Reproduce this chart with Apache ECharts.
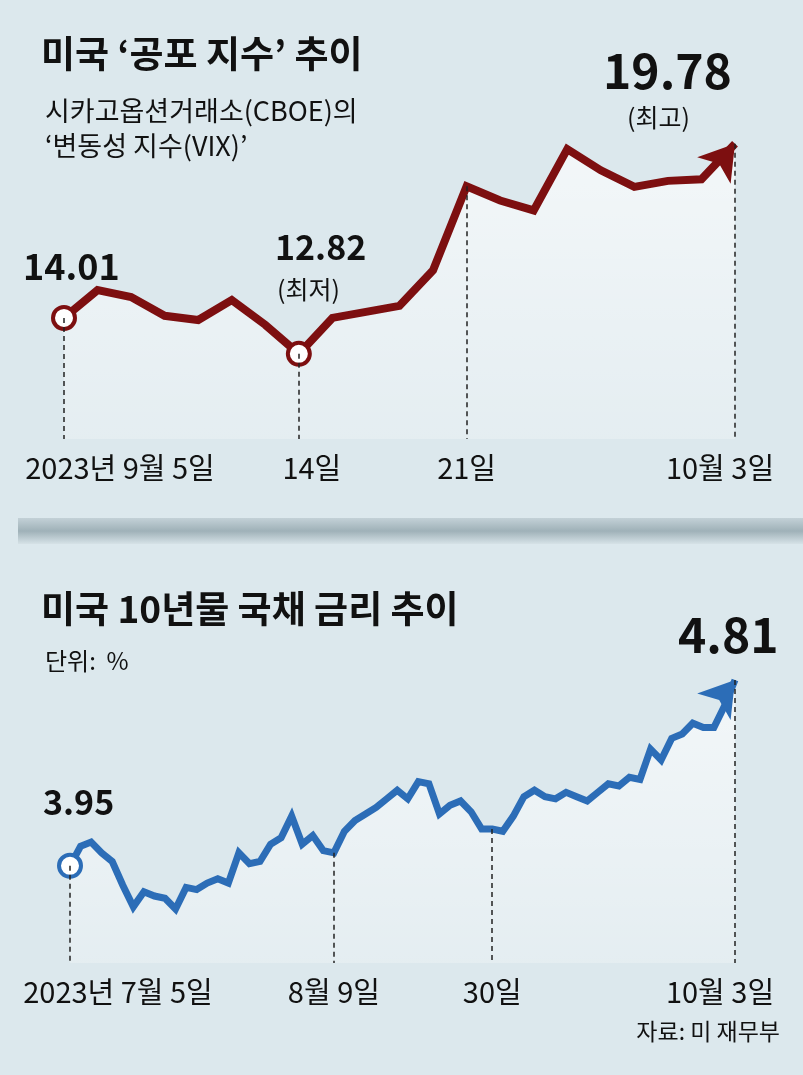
<!DOCTYPE html>
<html><head><meta charset="utf-8">
<script src="https://cdn.jsdelivr.net/npm/echarts@6/dist/echarts.min.js"></script>
<style>html,body{margin:0;padding:0;background:#dce8ed}#c{width:803px;height:1075px}</style>
</head><body><div id="c"></div>
<script>
// VIX, 2023-09-05 ~ 10-03 (거래일)
const vixDays = ['9/5','9/6','9/7','9/8','9/11','9/12','9/13','9/14','9/15','9/18','9/19','9/20','9/21','9/22','9/25','9/26','9/27','9/28','9/29','10/2','10/3']
const vixValues = [14.01,14.93,14.70,14.08,13.94,14.60,13.78,12.82,14.01,14.21,14.41,15.59,18.37,17.90,17.57,19.60,18.90,18.35,18.55,18.60,19.78]
const vixLabels = {0: '2023년 9월 5일', 7: '14일', 12: '21일', 20: '10월 3일'}
const vixCircles = [0, 7]

// 미국 10년물 국채 금리, 2023-07-05 ~ 10-03
const bondDays = ['7/5','7/6','7/7','7/10','7/11','7/12','7/13','7/14','7/17','7/18','7/19','7/20','7/21','7/24','7/25','7/26','7/27','7/28','7/31',
  '8/1','8/2','8/3','8/4','8/7','8/8','8/9','8/10','8/11','8/14','8/15','8/16','8/17','8/18','8/21','8/22','8/23','8/24','8/25','8/28','8/29','8/30','8/31',
  '9/1','9/5','9/6','9/7','9/8','9/11','9/12','9/13','9/14','9/15','9/18','9/19','9/20','9/21','9/22','9/25','9/26','9/27','9/28','9/29','10/2','10/3']
const bondValues = [3.95,4.04,4.06,4.01,3.97,3.86,3.76,3.83,3.81,3.80,3.75,3.85,3.84,3.87,3.89,3.87,4.01,3.96,3.97,
  4.05,4.08,4.18,4.05,4.09,4.02,4.01,4.11,4.16,4.19,4.22,4.26,4.30,4.26,4.34,4.33,4.19,4.23,4.25,4.20,4.12,4.12,4.11,
  4.18,4.27,4.30,4.27,4.26,4.29,4.27,4.25,4.29,4.33,4.32,4.36,4.35,4.49,4.44,4.54,4.56,4.61,4.59,4.59,4.69,4.81]
const bondLabels = {0: '2023년 7월 5일', 25: '8월 9일', 40: '30일', 63: '10월 3일'}
const bondCircles = [0]

const FONT = '"Noto Sans CJK KR", sans-serif'
const chart = echarts.init(document.getElementById('c'))

const pads = {'2023년 9월 5일': [0,0,0,112], '2023년 7월 5일': [0,0,0,96], '14일': [0,0,0,26], '10월 3일': [0,30,0,0]}
const makeAxisLabel = (labels) => ({
  interval: 0, margin: 14, color: '#111', fontSize: 29, fontFamily: FONT,
  formatter: (v, i) => labels[i] ? '{' + (pads[labels[i]] ? 'p' + Object.keys(pads).indexOf(labels[i]) : 'n') + '|' + labels[i] + '}' : '',
  rich: Object.assign({n: {fontSize: 29, fontFamily: FONT, color: '#111'}},
    ...Object.keys(pads).map((k, j) => ({['p' + j]: {fontSize: 29, fontFamily: FONT, color: '#111', padding: pads[k]}})))
})

const makeData = (values, circles, color, rot) => values.map((v, i) => {
  if (circles.includes(i)) return {value: v, symbol: 'circle', symbolSize: 22, itemStyle: {color: '#fff', borderColor: color, borderWidth: 4}}
  if (i === values.length - 1) return {value: v, symbol: 'arrow', symbolSize: [32, 34], symbolRotate: rot, itemStyle: {color}}
  return {value: v, symbol: 'none'}
})
const makeDrops = (values, labels, min) => Object.keys(labels).map(k => [
  {coord: [+k, values[k]]}, {coord: [+k, min]}])

const area = {color: new echarts.graphic.LinearGradient(0, 0, 0, 1, [
  {offset: 0, color: 'rgba(255,255,255,0.95)'}, {offset: 1, color: 'rgba(255,255,255,0.35)'}])}

chart.setOption({
  backgroundColor: '#dce8ed',
  animation: false,
  title: [
    {text: '미국 ‘공포 지수’ 추이', left: 36, top: 30, textStyle: {fontSize: 37, fontWeight: 'bold', fontFamily: FONT, color: '#111'}},
    {text: '시카고옵션거래소(CBOE)의\n‘변동성 지수(VIX)’', left: 40, top: 88, textStyle: {fontSize: 27, fontWeight: 'normal', lineHeight: 35, fontFamily: FONT, color: '#111'}},
    {text: '19.78', left: 598, top: 42, textStyle: {fontSize: 48, fontWeight: 'bold', fontFamily: FONT, color: '#111'}},
    {text: '(최고)', left: 622, top: 100, textStyle: {fontSize: 25, fontWeight: 'normal', fontFamily: FONT, color: '#111'}},
    {text: '14.01', left: 18, top: 243, textStyle: {fontSize: 36, fontWeight: 'bold', fontFamily: FONT, color: '#111'}},
    {text: '12.82', left: 270, top: 225, textStyle: {fontSize: 34, fontWeight: 'bold', fontFamily: FONT, color: '#111'}},
    {text: '(최저)', left: 272, top: 272, textStyle: {fontSize: 25, fontWeight: 'normal', fontFamily: FONT, color: '#111'}},
    {text: '미국 10년물 국채 금리 추이', left: 36, top: 585, textStyle: {fontSize: 37, fontWeight: 'bold', fontFamily: FONT, color: '#111'}},
    {text: '단위:  %', left: 40, top: 644, textStyle: {fontSize: 24, fontWeight: 'normal', fontFamily: FONT, color: '#111'}},
    {text: '4.81', left: 673, top: 606, textStyle: {fontSize: 48, fontWeight: 'bold', fontFamily: FONT, color: '#111'}},
    {text: '3.95', left: 38, top: 780, textStyle: {fontSize: 34, fontWeight: 'bold', fontFamily: FONT, color: '#111'}},
    {text: '자료: 미 재무부', right: 18, top: 1015, textStyle: {fontSize: 23, fontWeight: 'normal', fontFamily: FONT, color: '#111'}}
  ],
  graphic: [{type: 'rect', left: 18, top: 518, shape: {width: 785, height: 26},
    style: {fill: new echarts.graphic.LinearGradient(0, 0, 0, 1, [{offset: 0, color: '#c3d1d7'}, {offset: 0.5, color: '#9fb1b8'}, {offset: 1, color: '#d6e2e7'}])}}],
  grid: [
    {left: 64, right: 68, top: 122, height: 317},
    {left: 70, right: 68, top: 639, height: 324}
  ],
  xAxis: [
    {gridIndex: 0, type: 'category', data: vixDays, boundaryGap: false, axisLine: {show: false}, axisTick: {show: false}, axisLabel: makeAxisLabel(vixLabels)},
    {gridIndex: 1, type: 'category', data: bondDays, boundaryGap: false, axisLine: {show: false}, axisTick: {show: false}, axisLabel: makeAxisLabel(bondLabels)}
  ],
  yAxis: [
    {gridIndex: 0, type: 'value', min: 10, max: 20.5, show: false},
    {gridIndex: 1, type: 'value', min: 3.5, max: 5.0, show: false}
  ],
  series: [
    {type: 'line', xAxisIndex: 0, yAxisIndex: 0, data: makeData(vixValues, vixCircles, '#7d0f10', -38.4),
      lineStyle: {color: '#7d0f10', width: 8, join: 'miter'}, areaStyle: area, z: 3,
      markLine: {silent: true, symbol: 'none', label: {show: false}, lineStyle: {color: '#222', type: [5, 4], width: 1.5}, data: makeDrops(vixValues, vixLabels, 10)}},
    {type: 'line', xAxisIndex: 1, yAxisIndex: 1, data: makeData(bondValues, bondCircles, '#2c6db7', -38.4),
      lineStyle: {color: '#2c6db7', width: 7, join: 'miter'}, areaStyle: area, z: 3,
      markLine: {silent: true, symbol: 'none', label: {show: false}, lineStyle: {color: '#222', type: [5, 4], width: 1.5}, data: makeDrops(bondValues, bondLabels, 3.5)}}
  ]
})
</script>
</body></html>
